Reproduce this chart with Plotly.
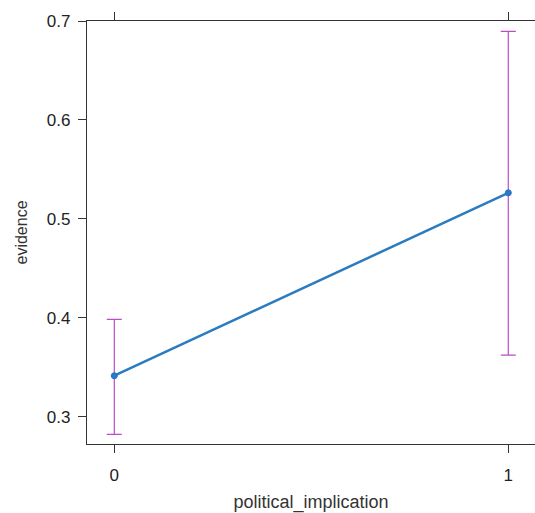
import plotly.graph_objects as go

categories = [0, 1]
fit = [0.3414, 0.5263]
upper = [0.3984, 0.6896]
lower = [0.2822, 0.3623]
y_ticks = [0.3, 0.4, 0.5, 0.6, 0.7]
x_ticks = [0, 1]

err_plus = [u - f for u, f in zip(upper, fit)]
err_minus = [f - l for f, l in zip(fit, lower)]

fig = go.Figure()
fig.add_trace(go.Scatter(
    x=categories, y=fit, mode="markers",
    marker=dict(size=1, color="rgba(0,0,0,0)"),
    error_y=dict(type="data", symmetric=False, array=err_plus, arrayminus=err_minus,
                 color="#bb4cc6", thickness=1.2, width=7.5),
    showlegend=False, hoverinfo="skip",
))
fig.add_trace(go.Scatter(
    x=categories, y=fit, mode="lines+markers",
    line=dict(color="#2a7bc0", width=2.5),
    marker=dict(size=6, color="#2a7bc0", line=dict(color="#1f6fd0", width=1)),
    showlegend=False,
))

axis_font = dict(family="Liberation Sans, Arial, sans-serif", size=17, color="#222222")
fig.update_layout(
    width=535, height=513,
    margin=dict(l=87, r=0, t=21, b=69),
    paper_bgcolor="white", plot_bgcolor="white",
    font=dict(family="Liberation Sans, Arial, sans-serif", color="#222222"),
    xaxis=dict(
        range=[-0.0693, 1.0678], tickvals=x_ticks, ticktext=[str(v) for v in x_ticks],
        showgrid=False, zeroline=False, showline=True, linecolor="#333333", linewidth=1.3,
        mirror="ticks", ticks="outside", ticklen=8, tickcolor="#333333", tickwidth=1,
        tickfont=axis_font, ticklabelstandoff=7,
        title=dict(text="political_implication", font=dict(size=18, color="#333333"), standoff=16),
    ),
    yaxis=dict(
        range=[0.2724, 0.7], tickvals=y_ticks, ticktext=[f"{v:.1f}" for v in y_ticks],
        showgrid=False, zeroline=False, showline=True, linecolor="#333333", linewidth=1.3,
        ticks="outside", ticklen=8, tickcolor="#333333", tickwidth=1,
        tickfont=axis_font, ticklabelstandoff=4,
        title=dict(text="evidence", font=dict(size=16, color="#333333"), standoff=15),
    ),
)
fig.write_html("out.html")
